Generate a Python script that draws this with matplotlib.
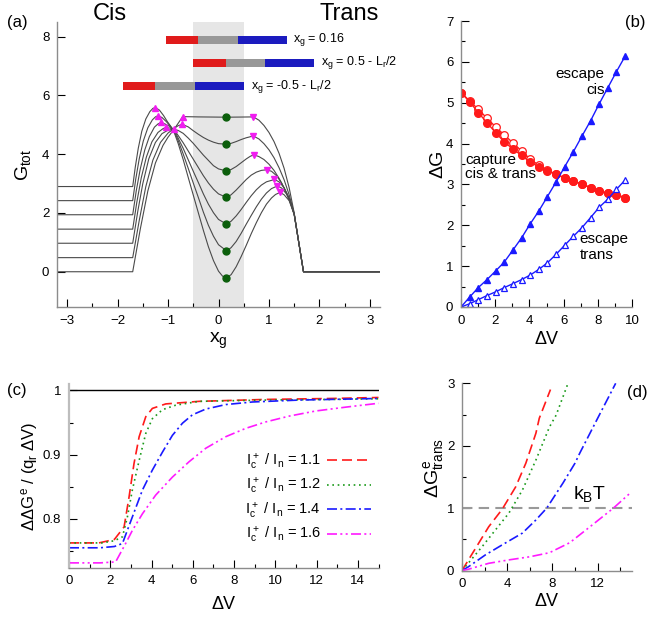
import numpy as np
import matplotlib
matplotlib.use('Agg')
import matplotlib.pyplot as plt

plt.rcParams['font.family'] = ['Liberation Sans', 'DejaVu Sans']
plt.rcParams['mathtext.fontset'] = 'custom'
plt.rcParams['mathtext.rm'] = 'Liberation Sans'
plt.rcParams['mathtext.it'] = 'Liberation Sans'
plt.rcParams['mathtext.sf'] = 'Liberation Sans'

# ---------------- panel (a): free energy profiles ----------------
prof_x = [
    [-3.2, -1.70, -1.55, -1.40, -1.25, -1.10, -1.00, -0.88, -0.80, -0.71, -0.40, 0.16, 0.45, 0.69,
     0.80, 0.90, 1.00, 1.10, 1.20, 1.30, 1.40, 1.50, 1.59, 1.684, 3.2],
    [-3.2, -1.70, -1.57, -1.44, -1.30, -1.15, -1.00, -0.88, -0.80, -0.72, -0.60, -0.50, -0.40, -0.30,
     -0.20, -0.10, 0.00, 0.16, 0.25, 0.35, 0.45, 0.55, 0.69, 0.80, 0.90, 1.00, 1.10, 1.20, 1.30, 1.40,
     1.50, 1.59, 1.684, 3.2],
    [-3.2, -1.70, -1.60, -1.50, -1.38, -1.25, -1.12, -1.00, -0.886, -0.80, -0.70, -0.60, -0.50, -0.40,
     -0.30, -0.20, -0.10, 0.00, 0.16, 0.25, 0.35, 0.45, 0.55, 0.63, 0.70, 0.80, 0.90, 1.00, 1.10, 1.20,
     1.30, 1.40, 1.50, 1.59, 1.684, 3.2],
    [-3.2, -1.70, -1.62, -1.53, -1.43, -1.32, -1.20, -1.10, -1.045, -0.96, -0.886, -0.80, -0.70, -0.60,
     -0.50, -0.40, -0.30, -0.20, -0.10, 0.00, 0.16, 0.25, 0.35, 0.45, 0.55, 0.65, 0.75, 0.85, 0.955,
     1.05, 1.15, 1.25, 1.35, 1.42, 1.50, 1.59, 1.684, 3.2],
    [-3.2, -1.70, -1.63, -1.55, -1.46, -1.37, -1.27, -1.20, -1.138, -1.06, -0.97, -0.886, -0.80, -0.70,
     -0.60, -0.50, -0.40, -0.30, -0.20, -0.10, 0.00, 0.16, 0.25, 0.35, 0.45, 0.55, 0.65, 0.75, 0.85,
     0.95, 1.108, 1.20, 1.30, 1.40, 1.50, 1.59, 1.684, 3.2],
    [-3.2, -1.70, -1.64, -1.57, -1.49, -1.40, -1.31, -1.25, -1.198, -1.12, -1.04, -0.96, -0.886, -0.80,
     -0.70, -0.60, -0.50, -0.40, -0.30, -0.20, -0.10, 0.00, 0.16, 0.25, 0.35, 0.45, 0.55, 0.65, 0.75,
     0.85, 0.95, 1.05, 1.167, 1.25, 1.35, 1.43, 1.50, 1.59, 1.684, 3.2],
    [-3.2, -1.70, -1.65, -1.59, -1.52, -1.44, -1.36, -1.30, -1.251, -1.17, -1.09, -1.01, -0.95, -0.886,
     -0.80, -0.70, -0.60, -0.50, -0.40, -0.30, -0.20, -0.10, 0.00, 0.08, 0.16, 0.25, 0.35, 0.45, 0.55,
     0.65, 0.75, 0.85, 0.95, 1.05, 1.13, 1.22, 1.30, 1.40, 1.50, 1.59, 1.684, 3.2],
]
prof_y = [
    [0, 0, 1.45, 2.75, 3.70, 4.30, 4.58, 4.85, 5.05, 5.28, 5.27, 5.26, 5.265, 5.27,
     5.16, 4.98, 4.74, 4.43, 4.03, 3.52, 2.86, 2.00, 1.00, 0, 0],
    [0.48, 0.48, 1.75, 2.90, 3.80, 4.40, 4.72, 4.88, 4.97, 5.02, 4.93, 4.80, 4.68, 4.57,
     4.48, 4.41, 4.36, 4.34, 4.37, 4.43, 4.50, 4.56, 4.62, 4.52, 4.36, 4.15, 3.88, 3.54, 3.13, 2.62,
     1.98, 1.00, 0, 0],
    [0.97, 0.97, 2.05, 3.00, 3.85, 4.40, 4.70, 4.82, 4.85, 4.81, 4.71, 4.55, 4.37, 4.17,
     3.97, 3.79, 3.61, 3.50, 3.43, 3.48, 3.58, 3.71, 3.84, 3.93, 3.98, 3.92, 3.82, 3.66, 3.45, 3.18,
     2.86, 2.46, 1.96, 1.00, 0, 0],
    [1.45, 1.45, 2.35, 3.20, 3.90, 4.42, 4.74, 4.87, 4.91, 4.89, 4.84, 4.64, 4.39, 4.11,
     3.83, 3.55, 3.27, 3.02, 2.81, 2.65, 2.53, 2.62, 2.78, 2.96, 3.14, 3.29, 3.39, 3.45, 3.47,
     3.42, 3.27, 3.02, 2.66, 2.36, 1.95, 1.00, 0, 0],
    [1.94, 1.94, 2.75, 3.50, 4.15, 4.60, 4.92, 5.03, 5.08, 5.03, 4.95, 4.84, 4.55, 4.20,
     3.81, 3.42, 3.04, 2.65, 2.30, 2.01, 1.78, 1.62, 1.72, 1.90, 2.12, 2.36, 2.59, 2.79, 2.95,
     3.06, 3.14, 3.06, 2.86, 2.52, 1.95, 1.00, 0, 0],
    [2.42, 2.42, 3.15, 3.85, 4.45, 4.90, 5.17, 5.27, 5.31, 5.25, 5.12, 4.97, 4.80, 4.47,
     4.01, 3.52, 3.02, 2.53, 2.03, 1.58, 1.21, 0.92, 0.71, 0.82, 1.03, 1.31, 1.62, 1.92, 2.21,
     2.47, 2.68, 2.83, 2.92, 2.85, 2.64, 2.38, 1.95, 1.00, 0, 0],
    [2.90, 2.90, 3.55, 4.20, 4.78, 5.20, 5.45, 5.56, 5.59, 5.50, 5.32, 5.10, 4.96, 4.78,
     4.37, 3.82, 3.21, 2.61, 2.01, 1.41, 0.85, 0.38, 0.02, -0.15, -0.20, -0.10, 0.17, 0.52, 0.90,
     1.30, 1.67, 2.01, 2.30, 2.51, 2.63, 2.70, 2.62, 2.42, 1.95, 1.00, 0, 0],
]
peak_cis_x = [-0.708, -0.72, -0.886, -1.045, -1.138, -1.198, -1.251]
peak_cis_y = [5.28, 5.02, 4.85, 4.91, 5.08, 5.31, 5.59]
well_x = [0.155] * 7
well_y = [5.26, 4.34, 3.43, 2.53, 1.62, 0.71, -0.20]
peak_trans_x = [0.69, 0.69, 0.70, 0.955, 1.108, 1.167, 1.22]
peak_trans_y = [5.27, 4.62, 3.98, 3.47, 3.14, 2.92, 2.70]

# pore cartoon bars (red / grey / blue segments)
bar_y = [7.89, 7.12, 6.32]
bar_start = [-1.05, -0.50, -1.90]
seg_len = [0.64, 0.79, 0.97]
seg_col = ['#e01b1b', '#989898', '#1b1bbf']
bar_labels = [r'$x_g$ = 0.16', r'$x_g$ = 0.5 - $L_r$/2', r'$x_g$ = -0.5 - $L_r$/2']
bar_label_x = [1.48, 2.04, 0.645]

# ---------------- panel (b): barriers vs dV ----------------
dv_b = [0, 0.51, 1.01, 1.52, 2.02, 2.53, 3.03, 3.54, 4.04, 4.55, 5.05, 5.56, 6.06, 6.57, 7.07,
        7.58, 8.08, 8.59, 9.09, 9.60]
escape_cis = [0.0, 0.245, 0.475, 0.67, 0.88, 1.10, 1.39, 1.69, 2.03, 2.35, 2.70, 3.06, 3.43, 3.80,
              4.18, 4.56, 4.97, 5.37, 5.76, 6.14]
escape_trans = [0.0, 0.08, 0.18, 0.28, 0.37, 0.475, 0.57, 0.67, 0.78, 0.92, 1.08, 1.29, 1.51, 1.73,
                1.94, 2.19, 2.44, 2.64, 2.88, 3.11]
capture_cis = [5.25, 5.02, 4.76, 4.51, 4.27, 4.04, 3.87, 3.71, 3.55, 3.43, 3.33, 3.25, 3.16, 3.08,
               3.01, 2.92, 2.84, 2.78, 2.74, 2.68]
capture_trans = [5.25, 5.04, 4.84, 4.62, 4.41, 4.21, 4.02, 3.82, 3.62, 3.47, 3.35, 3.25, 3.16, 3.08,
                 3.01, 2.92, 2.84, 2.78, 2.74, 2.68]

# ---------------- panel (c): normalised effective drop ----------------
ratios = ['1.1', '1.2', '1.4', '1.6']
line_cols = ['#ff1a1a', '#1a9a1a', '#1a1aff', '#ff1aff']
line_styles = [(0, (6, 3)), (0, (1, 2.2)), (0, (6, 2, 1.2, 2)), (0, (6, 2, 1.2, 2, 1.2, 2))]
c_x = [
    [0, 1.45, 2.2, 2.67, 2.91, 3.15, 3.40, 3.72, 4.04, 4.69, 6.3, 9.54, 12.77, 15.0],
    [0, 1.6, 2.2, 2.59, 2.83, 3.07, 3.40, 3.72, 4.04, 4.53, 5.17, 6.3, 9.54, 12.77, 15.0],
    [0, 1.5, 2.2, 2.59, 2.83, 3.07, 3.56, 4.04, 4.53, 5.01, 5.5, 5.98, 6.63, 7.6, 8.89, 11.15, 15.0],
    [0, 1.5, 2.26, 2.75, 3.07, 3.56, 4.2, 5.01, 5.82, 6.63, 7.6, 8.57, 9.54, 10.67, 11.96, 13.42, 15.0],
]
c_y = [
    [0.7626, 0.7626, 0.768, 0.7875, 0.834, 0.886, 0.928, 0.959, 0.972, 0.979, 0.983, 0.986, 0.9875, 0.989],
    [0.7626, 0.7626, 0.766, 0.772, 0.803, 0.845, 0.891, 0.933, 0.956, 0.970, 0.977, 0.983, 0.985, 0.986, 0.987],
    [0.755, 0.755, 0.757, 0.7617, 0.7824, 0.803, 0.845, 0.876, 0.904, 0.930, 0.949, 0.962, 0.971, 0.978,
     0.982, 0.985, 0.9875],
    [0.7315, 0.7315, 0.733, 0.762, 0.782, 0.808, 0.837, 0.865, 0.889, 0.910, 0.928, 0.941, 0.951, 0.960,
     0.968, 0.974, 0.980],
]

# ---------------- panel (d): escape barrier to trans ----------------
d_x = [
    [0, 0.57, 1.47, 2.36, 3.55, 4.75, 5.65, 6.54, 6.84, 7.83],
    [0, 0.57, 1.77, 2.96, 4.15, 5.35, 6.54, 7.74, 8.33, 9.32],
    [0, 0.57, 2.07, 3.55, 5.35, 6.54, 7.5, 8.93, 10.0, 10.42, 11.92, 13.6],
    [0, 0.57, 2.36, 4.15, 6.0, 7.74, 9.53, 11.32, 13.4, 15.0],
]
d_y = [
    [0, 0.17, 0.436, 0.70, 0.98, 1.34, 1.72, 2.20, 2.44, 2.90],
    [0, 0.12, 0.38, 0.65, 0.92, 1.29, 1.77, 2.30, 2.49, 2.97],
    [0, 0.06, 0.25, 0.41, 0.60, 0.81, 1.0, 1.40, 1.72, 1.88, 2.41, 3.0],
    [0, 0.02, 0.115, 0.17, 0.22, 0.285, 0.445, 0.70, 1.0, 1.26],
]
kbt = 1.0


def style(ax):
    for s in ['top', 'right']:
        ax.spines[s].set_visible(False)
    for s in ['left', 'bottom']:
        ax.spines[s].set_color('#8c8c8c')
        ax.spines[s].set_linewidth(1.0)
    ax.tick_params(which='both', direction='in', labelsize=9.5, width=0.8, pad=5.5)
    ax.tick_params(which='major', length=6)
    ax.tick_params(which='minor', length=3)


W, H = 649, 618
fig = plt.figure(figsize=(W / 100, H / 100), dpi=100)


def box(l, r, t, b):
    return [l / W, 1 - b / H, (r - l) / W, (b - t) / H]


# ---- (a)
ax = fig.add_axes(box(57, 380, 22, 307))
style(ax)
ax.axvspan(-0.5, 0.5, color='#e6e6e6', lw=0, zorder=0)
for xs, ys in zip(prof_x, prof_y):
    ax.plot(xs, ys, color='#4a4a4a', lw=0.8, zorder=2)
ax.plot(peak_cis_x, peak_cis_y, '^', color='#f01df0', ms=5, zorder=3)
ax.plot(peak_trans_x, peak_trans_y, 'v', color='#f01df0', ms=5, zorder=3)
ax.plot(well_x, well_y, 'o', color='#0b5e0b', ms=5, zorder=3)
for yb, x0, lab, lx in zip(bar_y, bar_start, bar_labels, bar_label_x):
    left = x0
    for L, c in zip(seg_len, seg_col):
        ax.barh(yb, L, left=left, height=0.27, color=c, lw=0, zorder=3)
        left += L
    ax.text(lx, yb, lab, fontsize=9, va='center', ha='left')
ax.set_xlim(-3.2, 3.2)
ax.set_ylim(-1.2, 8.5)
ax.set_xticks(range(-3, 4))
ax.set_xticks(np.arange(-3, 3.5, 0.5), minor=True)
ax.set_yticks([0, 2, 4, 6, 8])
ax.set_xlabel(r'$x_g$', fontsize=14)
ax.set_ylabel(r'$G_{tot}$', fontsize=14)
ax.xaxis.set_label_coords(0.5, -0.085)
ax.yaxis.set_label_coords(-0.075, 0.5)
ax.text(0.164, 1.028, 'Cis', transform=ax.transAxes, fontsize=17, ha='center', va='center')
ax.text(0.904, 1.028, 'Trans', transform=ax.transAxes, fontsize=17, ha='center', va='center')

# ---- (b)
ax = fig.add_axes(box(461, 632, 21, 307))
style(ax)
ax.plot(dv_b, capture_trans, '-o', color='#ff1a1a', mfc='white', mec='#ff1a1a', ms=5.5, lw=1, mew=0.9)
ax.plot(dv_b, capture_cis, '-o', color='#ff1a1a', ms=5.5, lw=1)
ax.plot(dv_b, escape_cis, '-^', color='#1a1aff', ms=4.5, lw=1)
ax.plot(dv_b, escape_trans, '-^', color='#1a1aff', mfc='white', mec='#1a1aff', ms=4.5, lw=1, mew=0.9)
ax.set_xlim(0, 10)
ax.set_ylim(0, 7)
ax.set_xticks(range(0, 11, 2))
ax.set_xticks(range(0, 11), minor=True)
ax.set_yticks(range(0, 8))
ax.set_yticks(np.arange(0, 7.5, 0.5), minor=True)
ax.set_xlabel('ΔV', fontsize=13)
ax.set_ylabel('ΔG', fontsize=14)
ax.xaxis.set_label_coords(0.5, -0.085)
ax.yaxis.set_label_coords(-0.085, 0.5)
ax.text(8.4, 5.5, 'escape\ncis', fontsize=11, ha='right', va='center', linespacing=1.2)
ax.text(0.25, 3.43, 'capture\ncis & trans', fontsize=11, ha='left', va='center', linespacing=1.0)
ax.text(6.93, 1.475, 'escape\ntrans', fontsize=11, ha='left', va='center', linespacing=1.2)

# ---- (c)
ax = fig.add_axes(box(69, 378.5, 384, 567.7))
style(ax)
ax.spines['left'].set_color('#bdbdbd')
ax.spines['left'].set_linewidth(1.6)
ax.axhline(1.0, color='black', lw=1.0)
handles = []
for xs, ys, col, ls, r in zip(c_x, c_y, line_cols, line_styles, ratios):
    h, = ax.plot(xs, ys, color=col, ls=ls, lw=1.2, label=r'$I_c^+$ / $I_n$ = ' + r)
    handles.append(h)
ax.set_xlim(0, 15)
ax.set_ylim(0.724, 1.01)
ax.set_xticks(range(0, 15, 2))
ax.set_xticks(range(0, 16), minor=True)
ax.set_yticks([0.8, 0.9, 1.0])
ax.set_yticklabels(['0.8', '0.9', '1'])
ax.set_yticks([0.75, 0.85, 0.95], minor=True)
ax.set_xlabel('ΔV', fontsize=13)
ax.set_ylabel(r'ΔΔ$G^e$ / ($q_r$ ΔV)', fontsize=12)
ax.xaxis.set_label_coords(0.5, -0.155)
ax.yaxis.set_label_coords(-0.095, 0.5)
ax.legend(handles=handles, loc='upper right', bbox_to_anchor=(0.975, 0.63), frameon=False,
          markerfirst=False, fontsize=10.5, handlelength=3.0, handletextpad=0.4,
          labelspacing=0.3, borderaxespad=0, borderpad=0)

# ---- (d)
ax = fig.add_axes(box(462, 631.5, 383.3, 570.5))
style(ax)
ax.axhline(kbt, color='#999999', lw=1.5, ls=(0, (5, 3)))
for xs, ys, col, ls in zip(d_x, d_y, line_cols, line_styles):
    ax.plot(xs, ys, color=col, ls=ls, lw=1.2)
ax.set_xlim(0, 15)
ax.set_ylim(0, 3)
ax.set_xticks([0, 4, 8, 12])
ax.set_xticks([2, 6, 10, 14], minor=True)
ax.set_yticks([0, 1, 2, 3])
ax.set_yticks([0.5, 1.5, 2.5], minor=True)
ax.set_xlabel('ΔV', fontsize=13)
ax.set_ylabel(r'Δ$G^e_{trans}$', fontsize=14)
ax.xaxis.set_label_coords(0.5, -0.12)
ax.yaxis.set_label_coords(-0.095, 0.55)
ax.text(11.3, 1.23, r'$k_B$T', fontsize=14, ha='center', va='center')

# panel tags
fig.text(17 / W, 1 - 23 / H, '(a)', fontsize=12, ha='center', va='center')
fig.text(635 / W, 1 - 23 / H, '(b)', fontsize=12, ha='center', va='center')
fig.text(17 / W, 1 - 390 / H, '(c)', fontsize=12, ha='center', va='center')
fig.text(637 / W, 1 - 392 / H, '(d)', fontsize=12, ha='center', va='center')

fig.savefig('out.png', dpi=100)
